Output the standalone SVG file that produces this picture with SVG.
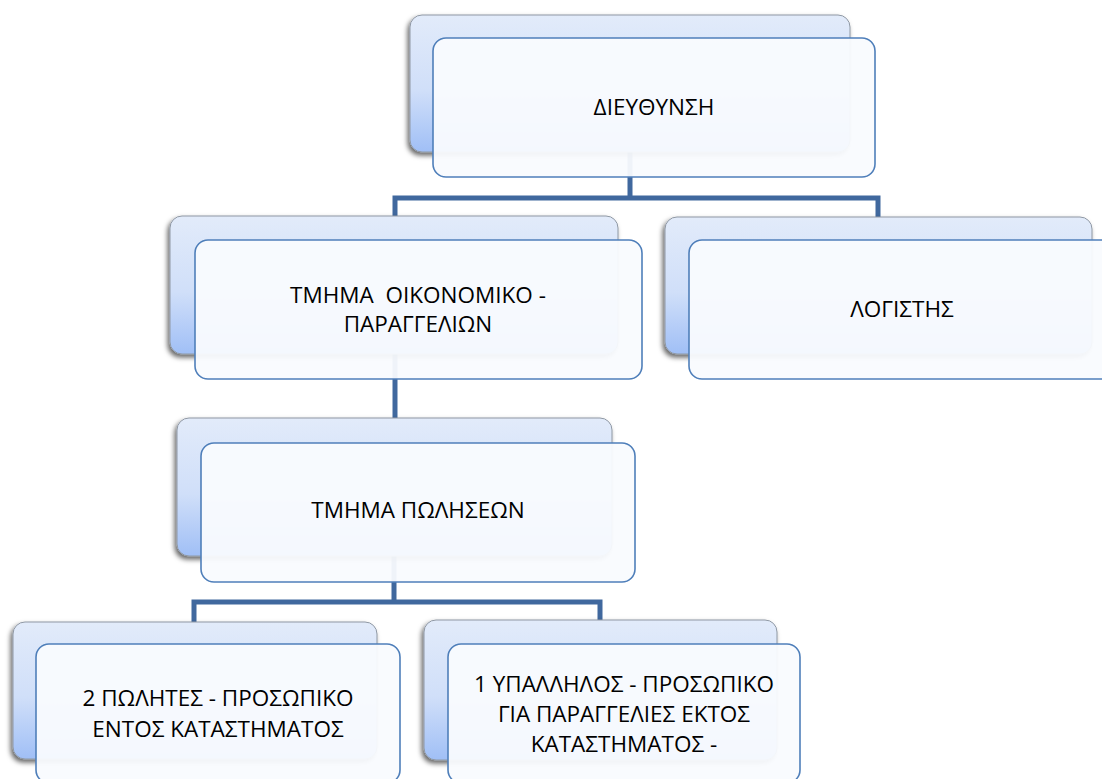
<svg xmlns="http://www.w3.org/2000/svg" width="1102" height="779" viewBox="0 0 1102 779">
<defs>
<linearGradient id="bg" x1="0" y1="0" x2="0" y2="1">
<stop offset="0" stop-color="#E2EBFA"/>
<stop offset="0.55" stop-color="#D0DFF9"/>
<stop offset="1" stop-color="#A0BFF6"/>
</linearGradient>
<filter id="sh" x="-10%" y="-10%" width="120%" height="130%">
<feDropShadow dx="-2" dy="3" stdDeviation="2.5" flood-color="#000" flood-opacity="0.6"/>
</filter>
<style>
.back{fill:url(#bg);stroke:#8F98A4;stroke-width:1;filter:url(#sh)}
.front{fill:#F9FBFE;fill-opacity:0.95;stroke:#4F7FBA;stroke-width:1.6}
.conn{fill:none;stroke:#40689E;stroke-width:5;stroke-linejoin:miter}
text{font-family:"Open Sans","Noto Sans","DejaVu Sans",sans-serif;font-size:22.5px;fill:#000;text-anchor:middle;white-space:pre}
</style>
</defs>
<rect width="1102" height="779" fill="#fff"/>
<g id="connectors">
<path class="conn" d="M630,152 V198 M395,216 V198 H878 V217"/>
<path class="conn" d="M395,354 V418"/>
<path class="conn" d="M394,556 V602 M194,622 V602 H600 V620"/>
</g>
<g id="n-dieuthynsi">
<rect class="back" x="410" y="15" width="440" height="137" rx="12"/>
<rect class="front" x="433" y="38" width="442" height="139" rx="13"/>
<text x="654" y="115">ΔΙΕΥΘΥΝΣΗ</text>
</g>
<g id="n-oikonomiko">
<rect class="back" x="170" y="216" width="448" height="138" rx="12"/>
<rect class="front" x="195" y="240" width="447" height="139" rx="13"/>
<text x="418" y="303" xml:space="preserve">ΤΜΗΜΑ  ΟΙΚΟΝΟΜΙΚΟ -</text>
<text x="418" y="332">ΠΑΡΑΓΓΕΛΙΩΝ</text>
</g>
<g id="n-logistis">
<rect class="back" x="665" y="217" width="427" height="137" rx="12"/>
<rect class="front" x="689" y="240" width="427" height="139" rx="13"/>
<text x="902" y="317">ΛΟΓΙΣΤΗΣ</text>
</g>
<g id="n-poliseon">
<rect class="back" x="177" y="418" width="435" height="138" rx="12"/>
<rect class="front" x="201" y="443" width="434" height="139" rx="13"/>
<text x="418" y="518">ΤΜΗΜΑ ΠΩΛΗΣΕΩΝ</text>
</g>
<g id="n-polites">
<rect class="back" x="13" y="622" width="364" height="137" rx="12"/>
<rect class="front" x="36" y="644" width="364" height="139" rx="13"/>
<text x="218" y="706">2 ΠΩΛΗΤΕΣ - ΠΡΟΣΩΠΙΚΟ</text>
<text x="218" y="737">ΕΝΤΟΣ ΚΑΤΑΣΤΗΜΑΤΟΣ</text>
</g>
<g id="n-ypallilos">
<rect class="back" x="424" y="620" width="353" height="140" rx="12"/>
<rect class="front" x="448" y="644" width="352" height="139" rx="13"/>
<text x="624" y="692">1 ΥΠΑΛΛΗΛΟΣ - ΠΡΟΣΩΠΙΚΟ</text>
<text x="624" y="722">ΓΙΑ ΠΑΡΑΓΓΕΛΙΕΣ ΕΚΤΟΣ</text>
<text x="624" y="752">ΚΑΤΑΣΤΗΜΑΤΟΣ -</text>
</g>
</svg>
